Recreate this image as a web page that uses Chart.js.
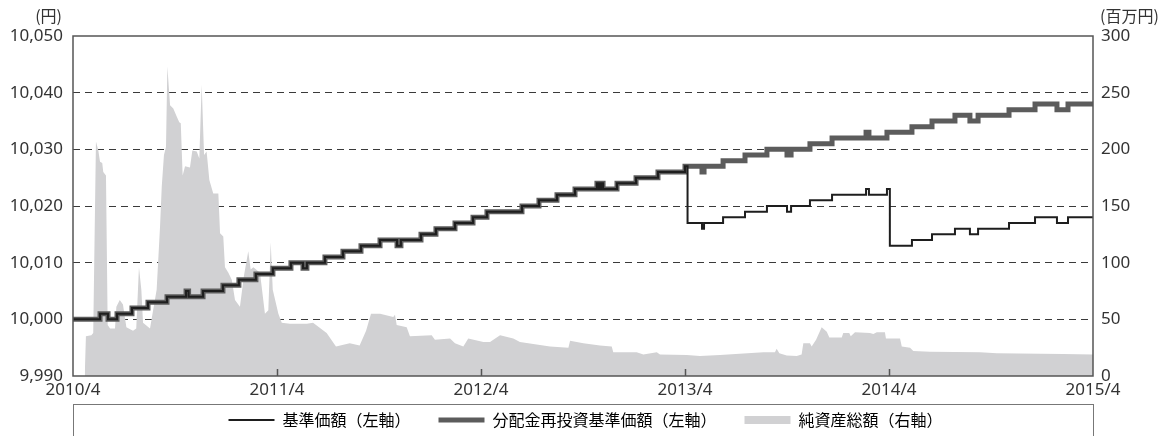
<!DOCTYPE html>
<html lang="ja">
<head>
<meta charset="utf-8">
<script src="https://cdn.jsdelivr.net/npm/chart.js@4.4.1/dist/chart.umd.min.js"></script>
<style>
  html, body { margin: 0; padding: 0; background: #fff; overflow: hidden; }
</style>
</head>
<body>
<canvas id="myChart" width="1171" height="470"></canvas>
<script>
// x positions are months counted from 2010/4
const xTickMonths = [0, 12, 24, 36, 48, 60];
const xTickLabels = ['2010/4', '2011/4', '2012/4', '2013/4', '2014/4', '2015/4'];
const leftTicks = [9990, 10000, 10010, 10020, 10030, 10040, 10050];
const rightTicks = [0, 50, 100, 150, 200, 250, 300];

// step points of the two NAV lines
const stepMonths = [0,1.59,2.06,2.59,3.47,4.41,5.53,6.65,6.8,7.65,
  8.82,9.76,10.76,11.76,12.82,13.53,13.76,14.82,15.88,16.94,
  18.06,19.06,19.29,20.47,21.35,22.47,23.53,24.35,26.41,27.41,
  28.47,29.53,30.82,30.94,31.06,31.18,32.0,33.12,34.41,36.0,
  36.15,37.0,37.12,38.24,39.53,40.82,42.0,42.24,43.35,44.65,
  46.65,46.82,47.88,48.05,49.35,50.53,51.88,52.76,53.24,55.06,
  56.59,57.88,58.53,60];
const reinvestNav = [10000,10001,10000,10001,10002,10003,10004,10005,10004,10005,
  10006,10007,10008,10009,10010,10009,10010,10011,10012,10013,
  10014,10013,10014,10015,10016,10017,10018,10019,10020,10021,
  10022,10023,10024,10023,10024,10023,10024,10025,10026,10027,
  10027,10026,10027,10028,10029,10030,10029,10030,10031,10032,
  10033,10032,10033,10033,10034,10035,10036,10035,10036,10037,
  10038,10037,10038,10038];
const nav = [10000,10001,10000,10001,10002,10003,10004,10005,10004,10005,
  10006,10007,10008,10009,10010,10009,10010,10011,10012,10013,
  10014,10013,10014,10015,10016,10017,10018,10019,10020,10021,
  10022,10023,10024,10023,10024,10023,10024,10025,10026,10027,
  10017,10016,10017,10018,10019,10020,10019,10020,10021,10022,
  10023,10022,10023,10013,10014,10015,10016,10015,10016,10017,
  10018,10017,10018,10018];

// net assets (million yen)
const assetMonths = [0.69,0.76,1.08,1.19,1.35,1.49,1.59,1.72,1.78,1.94,
  2.04,2.18,2.47,2.55,2.75,2.94,3.14,3.53,3.72,3.88,
  4.02,4.12,4.53,4.92,5.12,5.22,5.35,5.47,5.55,5.71,
  5.9,6.1,6.25,6.34,6.45,6.59,6.88,7.02,7.28,7.43,
  7.57,7.71,7.86,8.02,8.25,8.55,8.65,8.84,8.94,9.14,
  9.34,9.53,9.82,10.06,10.31,10.45,10.61,11.0,11.29,11.49,
  11.63,11.75,12.08,12.28,12.76,13.76,14.12,14.92,15.47,16.28,
  16.86,17.24,17.53,18.06,18.84,18.94,19.04,19.63,19.82,21.1,
  21.29,22.18,22.47,22.96,23.25,24.14,24.53,25.12,25.9,26.29,
  28.06,29.14,29.24,30.02,31.0,31.69,31.78,33.16,33.55,34.34,
  34.53,36.1,36.88,38.06,40.61,41.29,41.39,41.55,41.98,42.57,
  42.86,42.96,43.35,43.45,43.71,44.04,44.34,44.49,45.22,45.31,
  45.66,45.75,46.0,46.88,47.08,47.28,47.76,47.82,48.65,48.75,
  49.24,49.43,50.41,53.35,54.34,58.24,60];
const assetValues = [0,35,36,38,207,199,189,188,180,177,
  45,42,42,61,67,63,43,40,42,96,
  76,47,42,76,132,167,195,202,273,239,
  236,229,224,223,177,185,184,199,198,192,
  257,195,198,173,161,161,126,123,96,91,
  85,67,61,89,110,94,96,91,55,58,
  118,76,55,47,46,46,47,38,26,29,
  27,40,55,55,52,54,45,43,35,36,
  32,33,29,26,33,30,30,36,33,30,
  26,25,31,29,27,26,21,21,19,21,
  19,18.5,17.6,18.5,21,21,24,20,18,17.6,
  19,29,29,26,32,43,39,34,34,38,
  38,35,38.5,38,37,38.5,38.5,33,33,26,
  25,22,21.5,21,20,19.4,19];

const seriesLabels = ['基準価額（左軸）', '分配金再投資基準価額（左軸）', '純資産総額（右軸）'];
const seriesColors = ['#1e1e1e', '#5c5c5c', '#d1d1d3'];
const legendLineWidths = [2, 5, 8];

const toPoints = (xs, ys) => xs.map((x, i) => ({x: x, y: ys[i]}));

const chartExtras = {
  id: 'chartExtras',
  afterLayout(chart) {
    // pull the legend row up into its frame (labels.padding also sets item spacing)
    chart.legend.top -= 19;
    chart.legend.bottom -= 19;
  },
  afterDraw(chart) {
    const {ctx, chartArea: a} = chart;
    ctx.save();
    // plot frame
    ctx.strokeStyle = '#555';
    ctx.lineWidth = 1.5;
    ctx.strokeRect(a.left, a.top, a.right - a.left, a.bottom - a.top);
    // inward tick marks on the time axis
    const xs = chart.scales.x;
    ctx.beginPath();
    xTickMonths.slice(1, -1).forEach(m => {
      const px = Math.round(xs.getPixelForValue(m)) + 0.5;
      ctx.moveTo(px, a.bottom);
      ctx.lineTo(px, a.bottom - 7);
    });
    ctx.stroke();
    // unit labels
    ctx.fillStyle = '#333';
    ctx.font = '16px "Noto Sans CJK JP"';
    ctx.textBaseline = 'middle';
    ctx.textAlign = 'right';
    ctx.fillText('(円)', a.left - 11, 16);
    ctx.textAlign = 'left';
    ctx.fillText('(百万円)', a.right + 7, 16);
    // legend frame
    ctx.strokeStyle = '#777';
    ctx.lineWidth = 1;
    ctx.strokeRect(a.left + 0.5, a.bottom + 28.5, a.right - a.left, 80);
    ctx.restore();
  }
};

Chart.defaults.font.family = "'Noto Sans', sans-serif";
Chart.defaults.color = '#333';

new Chart(document.getElementById('myChart').getContext('2d'), {
  type: 'line',
  data: {
    datasets: [{
      label: seriesLabels[0],
      data: toPoints(stepMonths, nav),
      borderColor: seriesColors[0],
      borderWidth: 2,
      stepped: true,
      pointRadius: 0,
      fill: false,
      yAxisID: 'y'
    }, {
      label: seriesLabels[1],
      data: toPoints(stepMonths, reinvestNav),
      borderColor: seriesColors[1],
      borderWidth: 5,
      stepped: true,
      pointRadius: 0,
      fill: false,
      yAxisID: 'y'
    }, {
      label: seriesLabels[2],
      data: toPoints(assetMonths, assetValues),
      borderWidth: 0,
      borderColor: seriesColors[2],
      backgroundColor: seriesColors[2],
      pointRadius: 0,
      tension: 0,
      fill: 'origin',
      yAxisID: 'y1'
    }]
  },
  options: {
    responsive: false,
    animation: false,
    events: [],
    layout: { padding: { top: 36, left: 0, right: 0, bottom: 13 } },
    scales: {
      x: {
        type: 'linear',
        min: 0,
        max: 60,
        afterBuildTicks: s => { s.ticks = xTickMonths.map(v => ({value: v})); },
        afterFit: s => { s.height = 27; },
        ticks: {
          autoSkip: false,
          maxRotation: 0,
          padding: 4,
          font: { size: 17 },
          callback: (v, i) => xTickLabels[i]
        },
        grid: { display: false, drawTicks: false },
        border: { display: false }
      },
      y: {
        position: 'left',
        min: 9990,
        max: 10050,
        afterBuildTicks: s => { s.ticks = leftTicks.map(v => ({value: v})); },
        afterFit: s => { s.width = 73; },
        ticks: {
          padding: 10,
          font: { size: 17 },
          callback: v => v.toLocaleString('en-US')
        },
        grid: {
          drawTicks: false,
          color: c => (c.tick && (c.tick.value === 9990 || c.tick.value === 10050)) ? 'rgba(0,0,0,0)' : '#3a3a3a',
          lineWidth: 1
        },
        border: { display: false, dash: [7, 5] }
      },
      y1: {
        position: 'right',
        min: 0,
        max: 300,
        afterBuildTicks: s => { s.ticks = rightTicks.map(v => ({value: v})); },
        afterFit: s => { s.width = 78; },
        ticks: {
          padding: 8,
          font: { size: 17 }
        },
        grid: { drawOnChartArea: false, drawTicks: false },
        border: { display: false }
      }
    },
    plugins: {
      tooltip: { enabled: false },
      legend: {
        position: 'bottom',
        labels: {
          usePointStyle: true,
          pointStyleWidth: 46,
          padding: 28,
          color: '#333',
          font: { family: "'Noto Sans CJK JP', sans-serif", size: 16 },
          generateLabels: chart => chart.data.datasets.map((ds, i) => ({
            text: ds.label,
            datasetIndex: i,
            pointStyle: 'line',
            lineWidth: legendLineWidths[i],
            strokeStyle: seriesColors[i],
            fillStyle: seriesColors[i],
            lineCap: 'butt',
            hidden: false
          }))
        }
      }
    }
  },
  plugins: [chartExtras]
});
</script>
</body>
</html>
